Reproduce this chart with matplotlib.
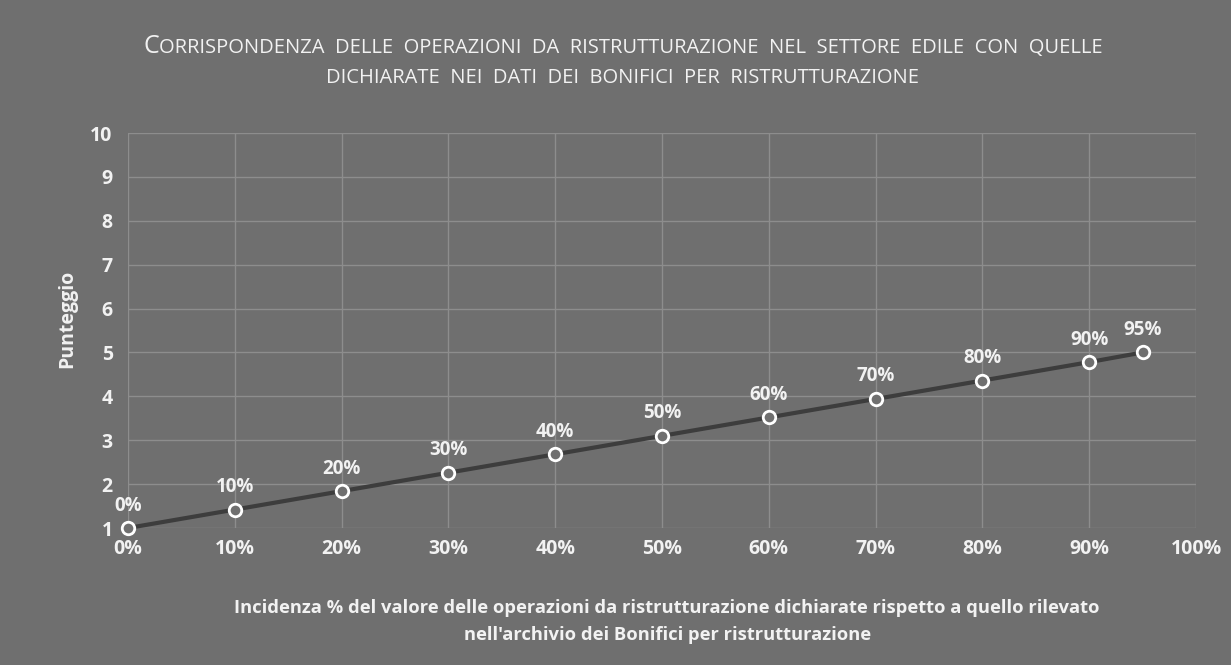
import matplotlib.pyplot as plt
import matplotlib as mpl
from matplotlib.offsetbox import TextArea, HPacker, AnchoredOffsetbox
import numpy as np

mpl.rcParams['font.family'] = ['Open Sans', 'DejaVu Sans']

# Data
incidenza = [0.0, 0.10, 0.20, 0.30, 0.40, 0.50, 0.60, 0.70, 0.80, 0.90, 0.95]
punteggio = [1.0, 1.42, 1.84, 2.26, 2.68, 3.10, 3.52, 3.94, 4.36, 4.78, 5.0]
etichette = ['0%', '10%', '20%', '30%', '40%', '50%', '60%', '70%', '80%', '90%', '95%']
x_ticks = np.arange(0, 1.01, 0.1)
x_ticklabels = ['0%', '10%', '20%', '30%', '40%', '50%', '60%', '70%', '80%', '90%', '100%']
y_ticks = list(range(1, 11))

bg = '#6f6f6f'
grid_col = '#8d8d8d'
text_col = '#f2f2f2'
line_col = '#3d3d3d'

fig = plt.figure(figsize=(12.31, 6.65), dpi=100, facecolor=bg)
ax = fig.add_axes([0.104, 0.206, 0.8676, 0.594], facecolor=bg)

ax.plot(incidenza, punteggio, color=line_col, linewidth=3, zorder=3, clip_on=False)
ax.plot(incidenza, punteggio, linestyle='none', marker='o', markersize=9,
        markerfacecolor=bg, markeredgecolor='white', markeredgewidth=2, zorder=4,
        clip_on=False)

for x, y, lab in zip(incidenza, punteggio, etichette):
    ax.annotate(lab, (x, y), xytext=(0, 9), textcoords='offset points',
                ha='center', va='bottom', color=text_col, fontsize=13.5, fontweight='bold')

ax.set_xlim(0, 1)
ax.set_ylim(1, 10)
ax.set_xticks(x_ticks)
ax.set_xticklabels(x_ticklabels)
ax.set_yticks(y_ticks)
ax.grid(True, color=grid_col, linewidth=1)
ax.set_axisbelow(True)
for s in ax.spines.values():
    s.set_visible(False)
ax.tick_params(length=0, colors=text_col, labelsize=14)
ax.tick_params(axis='x', pad=8)
ax.tick_params(axis='y', pad=11)
for t in ax.get_xticklabels() + ax.get_yticklabels():
    t.set_fontweight('bold')

ax.set_ylabel('Punteggio', color=text_col, fontsize=14, fontweight='bold')
ax.yaxis.set_label_coords(-0.048, 0.53)
fig.text(0.542, 0.065,
         "Incidenza % del valore delle operazioni da ristrutturazione dichiarate rispetto a quello rilevato\n"
         "nell'archivio dei Bonifici per ristrutturazione",
         ha='center', va='center', color=text_col, fontsize=13.25, fontweight='bold',
         linespacing=1.65)

# Title in small caps
def small_caps_line(first, rest, y):
    parts = [TextArea(first, textprops=dict(color=text_col, fontsize=18)),
             TextArea(rest, textprops=dict(color=text_col, fontsize=14.5))]
    box = HPacker(children=parts, align='baseline', pad=0, sep=0)
    anc = AnchoredOffsetbox(loc='center', child=box, frameon=False,
                            bbox_to_anchor=(0.506, y), bbox_transform=fig.transFigure,
                            borderpad=0, pad=0)
    fig.add_artist(anc)

small_caps_line('C', 'ORRISPONDENZA  DELLE  OPERAZIONI  DA  RISTRUTTURAZIONE  NEL  SETTORE  EDILE  CON  QUELLE', 0.93)
fig.text(0.506, 0.882, 'DICHIARATE  NEI  DATI  DEI  BONIFICI  PER  RISTRUTTURAZIONE',
         ha='center', va='center', color=text_col, fontsize=14.5)

fig.savefig('out.png', dpi=100, facecolor=bg)
